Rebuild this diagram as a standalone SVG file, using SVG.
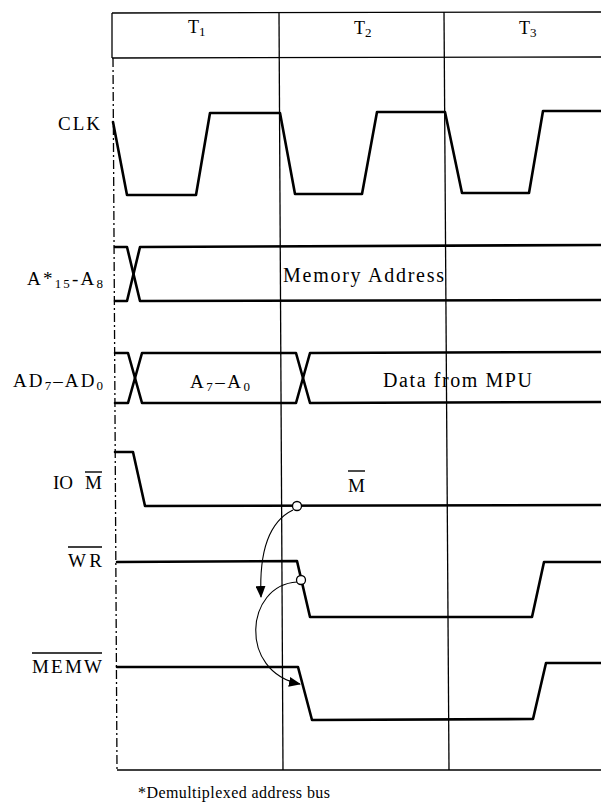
<svg xmlns="http://www.w3.org/2000/svg" width="601" height="805" viewBox="0 0 601 805">
<style>
  .grid { stroke: #000; stroke-width: 1.3; fill: none; }
  .dash { stroke: #000; stroke-width: 1.3; fill: none; stroke-dasharray: 9 3 2 3; }
  .wave { stroke: #000; stroke-width: 2.6; fill: none; stroke-linejoin: round; stroke-linecap: round; }
  .lbl { font-family: "Liberation Serif", "Times New Roman", serif; font-size: 19px; fill: #000; }
  .big { font-size: 20px; }
  .hdr { font-family: "Liberation Serif", "Times New Roman", serif; font-size: 18px; fill: #000; }
  .sub { font-size: 13px; }
  .bar { stroke: #000; stroke-width: 1.4; }
  .conn { stroke: #000; stroke-width: 1.1; fill: none; }
  .dot { fill: #fff; stroke: #000; stroke-width: 1.3; }
</style>
<defs>
  <marker id="ah" markerWidth="12" markerHeight="10" refX="11" refY="5" orient="auto" markerUnits="userSpaceOnUse">
    <path d="M0,0 L12,5 L0,10 Z" fill="#000"/>
  </marker>
</defs>
<rect x="0" y="0" width="601" height="805" fill="#fff"/>

<g id="frame">
  <line class="grid" x1="112" y1="13" x2="601" y2="12"/>
  <line class="grid" x1="112" y1="58" x2="601" y2="57"/>
  <line class="grid" x1="112" y1="13" x2="112" y2="58"/>
  <line class="grid" x1="279" y1="13" x2="283" y2="770"/>
  <line class="grid" x1="444" y1="12" x2="449" y2="770"/>
  <line class="dash" x1="113" y1="58" x2="117" y2="770"/>
  <line class="grid" x1="117" y1="770" x2="601" y2="770"/>
  <text class="hdr" x="188" y="33">T<tspan class="sub" dy="3">1</tspan></text>
  <text class="hdr" x="354" y="34">T<tspan class="sub" dy="3">2</tspan></text>
  <text class="hdr" x="519" y="34">T<tspan class="sub" dy="3">3</tspan></text>
</g>

<g id="clk">
  <text class="lbl" x="58" y="130" textLength="42" lengthAdjust="spacing">CLK</text>
  <path class="wave" d="M113,122 L127,195 L196,195 L210,113 L280,113 L295,194 L362,194 L377,112 L445,112 L462,193 L529,193 L543,111 L601,111"/>
</g>

<g id="addr-high">
  <text class="lbl" x="27" y="285" textLength="76" lengthAdjust="spacing">A*<tspan class="sub" dy="3">15</tspan><tspan dy="-3">-A</tspan><tspan class="sub" dy="3">8</tspan></text>
  <path class="wave" d="M115,247 L127,247 L140,301 L601,300"/>
  <path class="wave" d="M115,301 L127,301 L140,247 L601,245"/>
  <text class="lbl big" x="283" y="282" textLength="161" lengthAdjust="spacing">Memory Address</text>
</g>

<g id="addr-data">
  <text class="lbl" x="13" y="387" textLength="90" lengthAdjust="spacing">AD<tspan class="sub" dy="3">7</tspan><tspan dy="-3">–AD</tspan><tspan class="sub" dy="3">0</tspan></text>
  <path class="wave" d="M115,353 L128,353 L142,403 L296,403 L310,353 L601,352"/>
  <path class="wave" d="M115,403 L128,403 L142,353 L296,353 L310,403 L601,402"/>
  <text class="lbl" x="190" y="388" textLength="60" lengthAdjust="spacing">A<tspan class="sub" dy="3">7</tspan><tspan dy="-3">–A</tspan><tspan class="sub" dy="3">0</tspan></text>
  <text class="lbl big" x="383" y="387" textLength="149" lengthAdjust="spacing">Data from MPU</text>
</g>

<g id="io-m">
  <text class="lbl" x="53" y="489">IO</text>
  <text class="lbl" x="85" y="489">M</text>
  <line class="bar" x1="85" y1="472" x2="102" y2="472"/>
  <path class="wave" d="M115,452 L133,452 L145,506 L601,505"/>
  <text class="lbl" x="348" y="492">M</text>
  <line class="bar" x1="348" y1="471" x2="365" y2="471"/>
</g>

<g id="wr">
  <text class="lbl" x="68" y="567" textLength="34" lengthAdjust="spacing">WR</text>
  <line class="bar" x1="68" y1="547" x2="102" y2="547"/>
  <path class="wave" d="M117,562 L297,561 L310,617 L532,617 L544,562 L601,562"/>
</g>

<g id="memw">
  <text class="lbl" x="32" y="673" textLength="70" lengthAdjust="spacing">MEMW</text>
  <line class="bar" x1="32" y1="653" x2="102" y2="653"/>
  <path class="wave" d="M117,667 L298,667 L312,720 L533,719 L546,663 L601,663"/>
</g>

<g id="connectors">
  <path class="conn" d="M293,510 C268,522 259,552 261,597" marker-end="url(#ah)"/>
  <path class="conn" d="M297,582 C245,585 238,672 300,684" marker-end="url(#ah)"/>
  <circle class="dot" cx="297" cy="506" r="4.5"/>
  <circle class="dot" cx="301" cy="580" r="4.5"/>
</g>

<g id="footnote">
  <text class="lbl" x="138" y="798" style="font-size:16px" textLength="192" lengthAdjust="spacing">*Demultiplexed address bus</text>
</g>
</svg>
